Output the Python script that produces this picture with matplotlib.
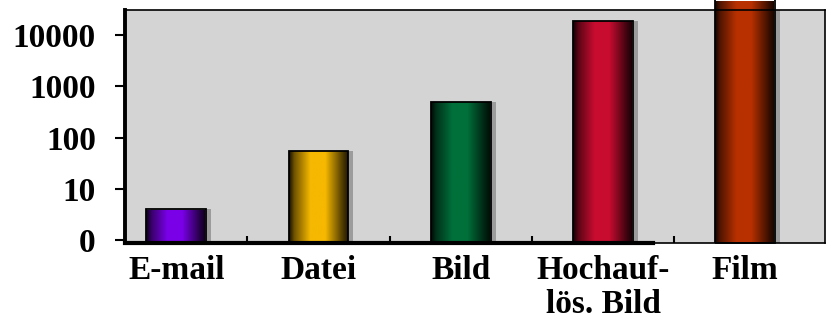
import numpy as np
import matplotlib
matplotlib.use("Agg")
import matplotlib.pyplot as plt
from matplotlib.colors import to_rgb

plt.rcParams["font.family"] = ["Liberation Serif", "DejaVu Serif"]
plt.rcParams["font.weight"] = "bold"

categories = ["E-mail", "Datei", "Bild", "Hochauf-\nlös. Bild", "Film"]
values = [4, 55, 500, 19000, 100000]
colors = ["#7a00e8", "#f6b800", "#00703a", "#c80c30", "#b83000"]
ytick_values = [1, 10, 100, 1000, 10000]
ytick_labels = ["0", "10", "100", "1000", "10000"]

ymin, ymax = 0.874, 31000
bar_w = 0.42

fig = plt.figure(figsize=(8.31, 3.23), dpi=100)
ax = fig.add_axes([0.1504, 0.2477, 0.8424, 0.7213])
ax.set_facecolor("#d4d4d4")
ax.set_yscale("log")

x = np.arange(len(categories))

# Schatten
ax.bar(x + 0.035, [v - ymin for v in values], bar_w, bottom=ymin,
       color="#9c9c9c", zorder=1)

# Balken mit Zylinder-Schattierung
t = np.linspace(0, 1, 200)
shade = np.interp(t, [0, 0.08, 0.35, 0.6, 0.9, 1], [0.12, 0.45, 1.0, 1.0, 0.3, 0.1])
bars = ax.bar(x, [v - ymin for v in values], bar_w, bottom=ymin,
              facecolor="none", edgecolor="black", linewidth=1.3, zorder=3)
for i, (b, c) in enumerate(zip(bars, colors)):
    rgb = np.array(to_rgb(c))
    img = (shade[:, None] * rgb[None, :])[None, :, :]
    x0 = b.get_x()
    im = ax.imshow(img, extent=[x0, x0 + b.get_width(), ymin, values[i]],
                   aspect="auto", origin="lower", zorder=2, interpolation="bilinear")
    if values[i] > ymax:
        b.set_clip_on(False)
        im.set_clip_on(False)
    im.set_clip_path(b)

ax.set_xlim(-0.36, 4.56)
ax.set_ylim(ymin, ymax)

ax.set_yticks(ytick_values)
ax.set_yticklabels(ytick_labels)
ax.minorticks_off()
ax.set_xticks(x)
ax.set_xticklabels(categories, linespacing=1.12)
ax.set_xticks(x[:-1] + 0.5, minor=True)

ax.tick_params(axis="y", which="major", length=7, width=1.5, pad=14, labelsize=24)
ax.tick_params(axis="x", which="major", length=0, pad=9, labelsize=24)
ax.tick_params(axis="x", which="minor", direction="in", length=5, width=1.5)

for s in ["top", "right", "bottom"]:
    ax.spines[s].set_linewidth(1.2)
ax.spines["left"].set_linewidth(2.8)
ax.axhline(ymin, 0, 0.754, color="black", linewidth=3, clip_on=False, zorder=4)

fig.savefig("out.png", dpi=100)
